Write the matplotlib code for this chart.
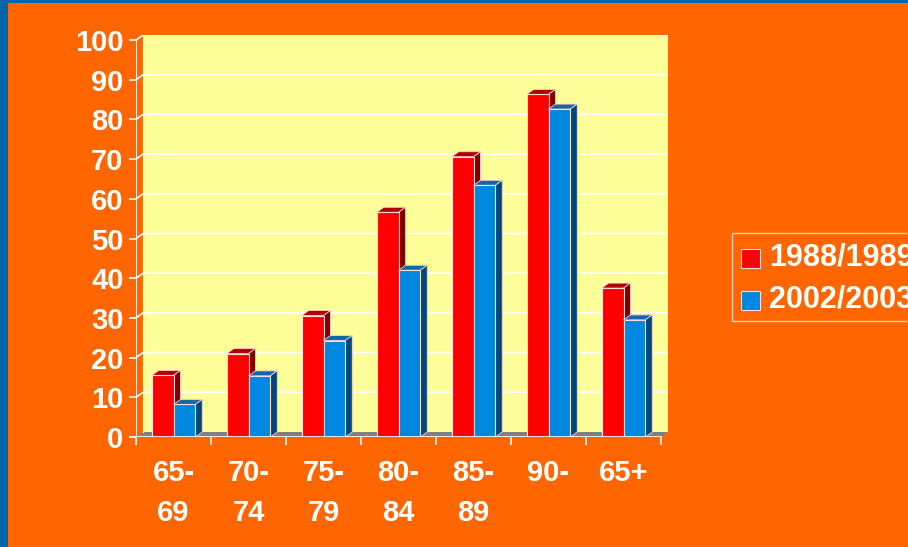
import numpy as np
import matplotlib.pyplot as plt
from matplotlib.patches import Polygon, Rectangle

plt.rcParams['font.family'] = ['Liberation Sans', 'DejaVu Sans']

# data
groups = ['65-\n69', '70-\n74', '75-\n79', '80-\n84', '85-\n89', '90-', '65+']
series = ['1988/1989', '2002/2003']
vals_1988 = [15.5, 21.0, 30.6, 56.6, 70.6, 86.3, 37.5]
vals_2002 = [8.2, 15.4, 24.3, 42.0, 63.4, 82.6, 29.5]
yticks = list(range(0, 101, 10))

orange = '#FF6600'
wall = '#FFFF99'
faces = {  # front, top, side
    '1988/1989': ('#FF0000', '#B00000', '#800000'),
    '2002/2003': ('#0088E0', '#1068A8', '#004878'),
}

fig = plt.figure(figsize=(9.08, 5.47), dpi=100, facecolor='#0066AA')
fig.patches.append(Rectangle((8 / 908, 0), 1, 1 - 3 / 547, transform=fig.transFigure,
                             facecolor=orange, edgecolor='none', zorder=-10))

ax = fig.add_axes([136 / 908, 110 / 547, 532 / 908, 402 / 547])
ax.patch.set_alpha(0)

n = len(groups)
x0, x1 = -0.5, n - 0.5
dx = 7 / 75            # depth offset in data units
dy = 5 / 3.97
ax.set_xlim(x0, x1 + dx)
ax.set_ylim(0, 100 + dy)

# back wall and floor
ax.add_patch(Rectangle((x0 + dx, dy), x1 - x0, 100, facecolor=wall, edgecolor='none', zorder=0))
ax.add_patch(Polygon([(x0, 0), (x1, 0), (x1 + dx, dy), (x0 + dx, dy)],
                     facecolor='#808080', edgecolor='none', zorder=1))
for v in yticks[1:]:
    ax.plot([x0, x0 + dx, x1 + dx], [v, v + dy, v + dy], color='white', lw=1.2, zorder=1)
ax.plot([x0, x0], [0, 100], color='white', lw=1.2, zorder=5)
ax.plot([x0, x1], [0, 0], color='white', lw=1.2, zorder=5)
ax.plot([x0 + dx, x0 + dx], [dy, 100 + dy], color='white', lw=0.8, zorder=1)


def bar3d(left, h, width, cols):
    front, top, side = cols
    ax.add_patch(Polygon([(left, h), (left + dx, h + dy), (left + width + dx, h + dy), (left + width, h)],
                         facecolor=top, edgecolor='#FFCCCC', lw=0.6, zorder=3))
    ax.add_patch(Polygon([(left + width, 0), (left + width + dx, dy), (left + width + dx, h + dy),
                          (left + width, h)], facecolor=side, edgecolor='#FFCCCC', lw=0.6, zorder=3))
    ax.add_patch(Rectangle((left, 0), width, h, facecolor=front, edgecolor='#FFDDDD', lw=0.8, zorder=3))


w = 0.29
for i in range(n):
    bar3d(i - w, vals_1988[i], w, faces[series[0]])
    bar3d(i, vals_2002[i], w, faces[series[1]])

for s in ax.spines.values():
    s.set_visible(False)
ax.set_yticks(yticks)
ax.set_yticklabels([str(v) for v in yticks], fontsize=21, fontweight='bold', color='white')
ax.tick_params(axis='y', colors='white', length=5, width=1.2, pad=4)
ax.set_xticks(range(n))
ax.set_xticklabels(groups, fontsize=21, fontweight='bold', color='white', linespacing=1.55)
ax.set_xticks(np.arange(x0, x1 + 0.01, 1), minor=True)
ax.tick_params(axis='x', which='major', length=0, pad=16)
ax.tick_params(axis='x', which='minor', colors='white', length=6, width=1.2)

# legend
fig.patches.append(Rectangle((732 / 908, 1 - 321 / 547), 0.3, 88 / 547, transform=fig.transFigure,
                             facecolor='none', edgecolor='#FFD0B0', lw=1.0, zorder=2))
for k, (name, yc) in enumerate(zip(series, [258, 300])):
    fig.patches.append(Rectangle((741 / 908, 1 - (yc + 10) / 547), 19 / 908, 19 / 547,
                                 transform=fig.transFigure, facecolor=faces[name][0],
                                 edgecolor='#FFDDDD', lw=0.8, zorder=3))
    fig.text(769 / 908, 1 - yc / 547, name, fontsize=22, fontweight='bold', color='white',
             va='center', ha='left')

fig.savefig('out.png', dpi=100, facecolor=fig.get_facecolor())
